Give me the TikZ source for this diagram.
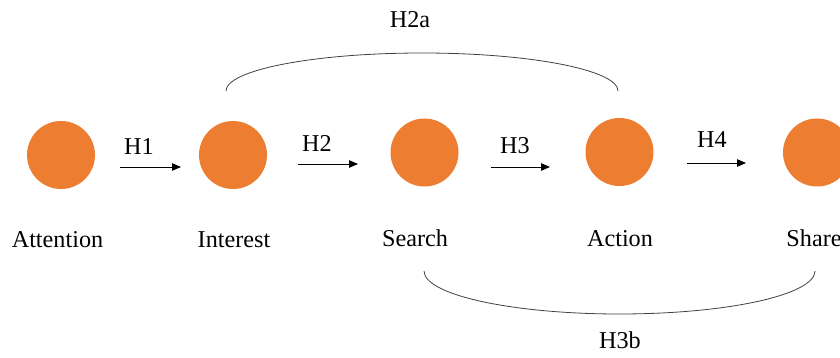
\documentclass[tikz,border=0pt]{standalone}
\usepackage{fontspec}
\setmainfont{Liberation Serif}
\usetikzlibrary{arrows.meta}
\definecolor{dotorange}{HTML}{ED7D31}
\definecolor{arcgray}{HTML}{404040}
\tikzset{
  dot/.style={circle,fill=dotorange,draw=none,minimum size=68pt,inner sep=0pt},
  lbl/.style={anchor=base,inner sep=0pt,font=\fontsize{24.2}{29}\selectfont},
  arr/.style={-{Triangle[length=9pt,width=7.5pt]},line width=0.9pt,black},
  arcline/.style={line width=0.8pt,arcgray},
}
\begin{document}
\begin{tikzpicture}[x=1pt,y=-1pt]
\useasboundingbox (0,0) rectangle (840,358);
\clip (0,0) rectangle (840,358);
% circles
\node[dot] (att) at (61,155) {};
\node[dot] (int) at (233,155) {};
\node[dot] (sea) at (424.5,152.5) {};
\node[dot] (act) at (619.5,152) {};
\node[dot] (sha) at (817,152.5) {};
% stage labels
\node[lbl] (tatt) at (57.5,247) {Attention};
\node[lbl] (tint) at (234,247) {Interest};
\node[lbl] (tsea) at (415,246) {Search};
\node[lbl] (tact) at (620,246) {Action};
\node[lbl] (tsha) at (814,246) {Share};
% arrows
\coordinate (a1s) at (120,167); \coordinate (a1e) at (181,167);
\coordinate (a2s) at (298,164); \coordinate (a2e) at (358,164);
\coordinate (a3s) at (491,167); \coordinate (a3e) at (550,167);
\coordinate (a4s) at (687,163); \coordinate (a4e) at (746,163);
\draw[arr] (a1s) -- (a1e);
\draw[arr] (a2s) -- (a2e);
\draw[arr] (a3s) -- (a3e);
\draw[arr] (a4s) -- (a4e);
\node[lbl] (h1) at (139,155) {H1};
\node[lbl] (h2) at (317,152) {H2};
\node[lbl] (h3) at (515,154) {H3};
\node[lbl] (h4) at (712,148) {H4};
% arcs
\coordinate (h2aL) at (226,91);
\draw[arcline] (h2aL) arc[start angle=180,end angle=0,x radius=196pt,y radius=38pt];
\coordinate (h3bL) at (424,271);
\draw[arcline] (h3bL) arc[start angle=180,end angle=360,x radius=195.5pt,y radius=43pt];
\node[lbl] (h2a) at (410,28) {H2a};
\node[lbl] (h3b) at (620,348) {H3b};
\end{tikzpicture}
\end{document}
